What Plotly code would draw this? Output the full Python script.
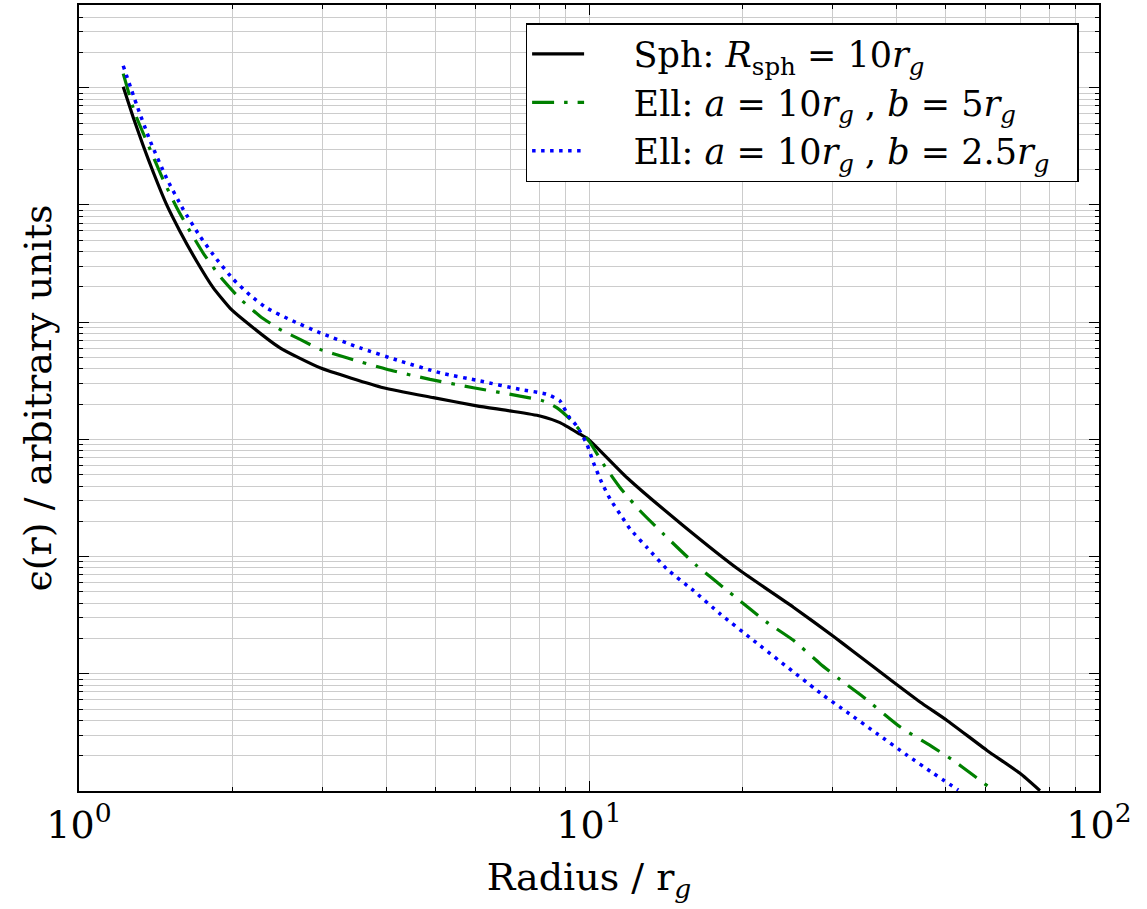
import plotly.graph_objects as go

# Emissivity profiles for the three corona geometries
sph_r = [1.221, 1.278, 1.337, 1.399, 1.486, 1.578, 1.701, 1.834, 1.977, 2.100,
         2.478, 2.969, 3.952, 4.952, 6.025, 7.00, 8.015, 8.772, 9.603, 9.97,
         11.86, 15.31, 19.78, 25.16, 30.13, 32.98, 39.51, 44.57, 50.28, 60.23,
         70.0, 76.6]
sph_e = [1.02e6, 5.56e5, 3.18e5, 1.89e5, 1.00e5, 5.95e4, 3.31e4, 1.96e4, 1.32e4, 1.05e4,
         6.04e3, 4.08e3, 2.76e3, 2.27e3, 1.93e3, 1.75e3, 1.585e3, 1.39e3, 1.107e3, 1.004e3,
         473, 183.6, 76.0, 37.0, 20.9, 15.5, 8.51, 5.75, 4.02, 2.23,
         1.415, 1.006]

ell5_r = [1.221, 1.286, 1.379, 1.463, 1.554, 1.651, 1.753, 1.890, 2.069, 2.264,
          2.478, 2.713, 2.969, 3.349, 4.012, 4.879, 5.932, 7.322, 8.136, 8.644,
          9.179, 9.745, 10.05, 10.67, 11.50, 12.59, 13.99, 16.26, 19.19, 22.30,
          25.16, 28.38, 31.06, 34.50, 40.72, 47.12, 51.66, 56.28, 60.95]
ell5_e = [1.32e6, 6.13e5, 2.97e5, 1.633e5, 9.52e4, 5.95e4, 3.87e4, 2.46e4, 1.585e4, 1.125e4,
          8.67e3, 7.13e3, 5.86e3, 4.97e3, 3.96e3, 3.25e3, 2.76e3, 2.34e3, 2.13e3, 1.866e3,
          1.486e3, 1.107e3, 939, 615, 389, 246, 156, 83.8, 46.6, 27.6,
          19.3, 12.2, 8.93, 6.35, 3.53, 2.38, 1.836, 1.395, 1.075]

ell25_r = [1.221, 1.297, 1.378, 1.486, 1.601, 1.727, 1.862, 2.007, 2.164, 2.334,
           2.593, 2.969, 3.556, 4.261, 5.104, 6.113, 7.322, 8.26, 8.772, 9.108,
           9.461, 9.90, 10.20, 10.59, 11.00, 11.50, 12.04, 12.98, 14.21, 16.01,
           18.07, 21.00, 28.80, 32.01, 36.65, 41.97, 47.33, 52.98]
ell25_e = [1.539e6, 7.17e5, 3.54e5, 1.681e5, 9.16e4, 5.4e4, 3.44e4, 2.32e4, 1.70e4, 1.32e4,
           1.05e4, 8.11e3, 6.04e3, 4.66e3, 3.70e3, 3.15e3, 2.67e3, 2.43e3, 2.13e3, 1.585e3,
           1.30e3, 916, 635, 429, 310, 231, 172, 120, 78.5, 51.4,
           32.5, 19.3, 6.56, 4.73, 3.10, 2.03, 1.415, 1.02]

# non-breaking spaces pad the legend labels on both sides
LEAD = "\u00a0" * 4
TRAIL = "\u00a0" * 2
names = [
    LEAD + "Sph: <i>R</i><sub>sph</sub> = 10<i>r<sub>g</sub></i>" + TRAIL,
    LEAD + "Ell: <i>a</i> = 10<i>r<sub>g</sub></i> , <i>b</i> = 5<i>r<sub>g</sub></i>" + TRAIL,
    LEAD + "Ell: <i>a</i> = 10<i>r<sub>g</sub></i> , <i>b</i> = 2.5<i>r<sub>g</sub></i>" + TRAIL,
]

x_major = [1, 10, 100]
x_major_text = ["10<sup>0</sup>", "10<sup>1</sup>", "10<sup>2</sup>"]
decades = [0, 1, 2, 3, 4, 5, 6]

FONT = "DejaVu Serif"
GRID = "#cccccc"

fig = go.Figure()
fig.add_trace(go.Scatter(x=sph_r, y=sph_e, mode="lines", name=names[0],
                         line=dict(color="black", width=3.2, shape="spline", smoothing=0.5)))
fig.add_trace(go.Scatter(x=ell5_r, y=ell5_e, mode="lines", name=names[1],
                         line=dict(color="green", width=3.2, shape="spline", smoothing=0.5,
                                   dash="22px,10px,3.5px,10px")))
fig.add_trace(go.Scatter(x=ell25_r, y=ell25_e, mode="lines", name=names[2],
                         line=dict(color="blue", width=3.5, shape="spline", smoothing=0.5,
                                   dash="3.5px,5.5px")))

x_minor = [m * 10 ** d for d in (0, 1) for m in range(2, 10)]
y_major = [10 ** d for d in decades]
y_minor = [m * 10 ** d for d in decades for m in range(2, 10)]

axis_common = dict(
    type="log", showline=True, linecolor="black", linewidth=1.6, mirror="allticks",
    ticks="inside", ticklen=10, tickwidth=1.2, tickcolor="black",
    showgrid=True, gridcolor=GRID, gridwidth=1, zeroline=False,
)

fig.update_xaxes(
    range=[0, 2], tickmode="array", tickvals=x_major, ticktext=x_major_text,
    tickfont=dict(family=FONT, size=38, color="black"),
    title=dict(text="Radius / r<sub><i>g</i></sub>",
               font=dict(family=FONT, size=38, color="black"), standoff=17),
    minor=dict(tickmode="array", tickvals=x_minor, ticks="inside", ticklen=4,
               tickcolor="black", showgrid=True, gridcolor=GRID, gridwidth=1),
    **axis_common,
)
fig.update_yaxes(
    range=[0, 6.706], tickmode="array", tickvals=y_major, showticklabels=False,
    title=dict(text="ϵ(r) / arbitrary units",
               font=dict(family=FONT, size=38, color="black"), standoff=14),
    minor=dict(tickmode="array", tickvals=y_minor, ticks="inside", ticklen=4,
               tickcolor="black", showgrid=True, gridcolor=GRID, gridwidth=1),
    **axis_common,
)

fig.update_layout(
    width=1147, height=909,
    margin=dict(l=79, r=48, t=3, b=118),
    paper_bgcolor="white", plot_bgcolor="white",
    font=dict(family=FONT, color="black"),
    legend=dict(x=0.98, xanchor="right", y=0.977, yanchor="top",
                bgcolor="white", bordercolor="black", borderwidth=1.5,
                font=dict(family=FONT, size=35, color="black"),
                itemwidth=52),
)

fig.write_html("out.html")
